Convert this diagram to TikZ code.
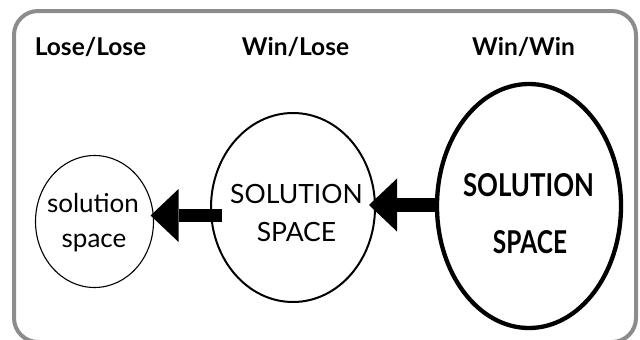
\documentclass[tikz,border=0pt]{standalone}
\usepackage{fontspec}
\setmainfont{Lato}
\usetikzlibrary{shapes.geometric,arrows.meta,calc}
\definecolor{frameGray}{RGB}{140,140,140}
\begin{document}
\begin{tikzpicture}[x=1pt,y=-1pt,
  sol/.style={ellipse,draw=black,inner sep=0pt},
  title/.style={anchor=base,inner sep=0pt,font=\fontsize{24.5}{29}\selectfont\bfseries},
  lbl/.style={anchor=base,inner sep=0pt},
  bigarrow/.style={line width=13.5pt,-{Triangle[length=28pt,width=53pt,line width=0pt]}},
]
\useasboundingbox (0,0) rectangle (640,340);
\draw[frameGray,line width=4pt,rounded corners=24pt] (14,11) rectangle (636,342);

\node[sol,line width=1.1pt,minimum width=118pt,minimum height=132pt] (e1) at (94.5,221.5) {};
\node[sol,line width=2pt,minimum width=164pt,minimum height=189pt] (e2) at (293,207.5) {};
\node[sol,line width=4.3pt,minimum width=184pt,minimum height=244pt] (e3) at (529,206) {};

\node[title] (h1) at (90.5,55) {Lose/Lose};
\node[title] (h2) at (295.5,55) {Win/Lose};
\node[title] (h3) at (523.5,55) {Win/Win};

\node[lbl,font=\fontsize{26}{30}\selectfont] (t1a) at (93,212) {solution};
\node[lbl,font=\fontsize{26}{30}\selectfont] (t1b) at (94,247) {space};
\node[lbl,font=\fontsize{26.5}{30}\selectfont] (t2a) at (296.5,203) {SOLUTION};
\node[lbl,font=\fontsize{26.5}{30}\selectfont] (t2b) at (296.5,241) {SPACE};
\node[lbl] (t3a) at (528.5,196) {\resizebox{131pt}{23pt}{\bfseries SOLUTION}};
\node[lbl] (t3b) at (530,253) {\resizebox{74pt}{23pt}{\bfseries SPACE}};

\draw[bigarrow] ($(e2.west)+(12,8)$) -- ($(e1.east)+(-3.5,-6)$);
\draw[bigarrow] ($(e3.west)+(4,-1)$) -- ($(e2.east)+(-7,-2.5)$);
\end{tikzpicture}
\end{document}
